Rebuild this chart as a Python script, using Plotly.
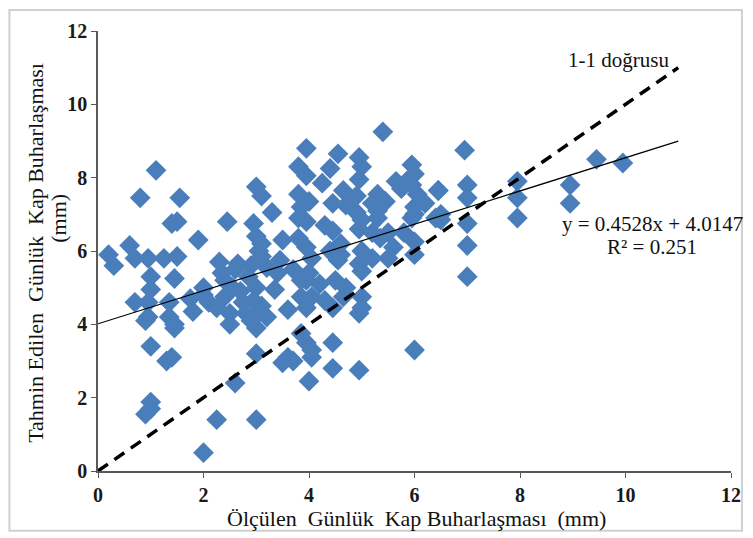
import plotly.graph_objects as go

# Measured (x) and predicted (y) daily pan evaporation values (mm)
measured = [0.2,0.3,0.6,0.7,0.7,0.8,0.95,1.0,1.0,0.95,0.95,0.9,1.0,1.0,1.0,0.9,1.1,1.25,1.5,1.45,1.35,1.35,1.45,1.3,1.4,1.4,1.5,1.55,1.45,1.75,1.8,1.9,2.0,2.0,2.0,2.1,2.25,2.3,2.35,2.4,2.45,2.5,2.5,2.6,2.25,2.65,2.7,2.8,2.85,3.0,2.95,3.0,3.0,3.0,2.95,3.0,3.1,3.0,3.1,3.3,3.5,3.45,3.4,3.35,3.7,3.6,3.85,3.85,3.5,3.6,3.85,3.95,4.05,4.05,3.7,4.0,3.1,3.2,3.1,3.2,2.9,3.05,
            3.8,3.95,3.95,4.55,4.95,5.0,4.4,4.25,4.95,5.95,6.0,5.85,6.45,3.8,4.0,4.65,4.9,5.3,5.45,5.65,5.75,5.95,6.05,6.0,5.95,4.45,4.7,5.2,5.3,3.85,3.8,3.95,4.3,4.45,4.9,5.0,4.95,5.3,6.5,6.5,3.8,3.95,4.05,4.6,4.6,5.2,5.35,5.5,6.0,4.4,4.55,4.0,3.95,4.2,4.5,4.7,4.65,4.95,5.0,4.05,4.3,3.95,5.0,5.0,4.95,4.45,5.4,4.45,4.45,4.95,6.0,5.5,5.6,5.0,5.2,5.8,6.0,6.2,6.4,6.0,
            6.95,7.0,7.0,6.45,6.45,7.0,7.0,7.0,7.95,7.95,7.95,8.95,8.95,9.45,9.95,
            2.55,2.75,2.9,3.0,2.4,2.6]
predicted = [5.9,5.6,6.15,5.8,4.6,7.45,5.8,5.3,4.95,4.6,4.2,4.1,3.4,1.88,1.7,1.55,8.2,5.8,5.85,5.25,4.6,4.2,3.9,3.0,3.1,6.75,6.8,7.45,4.0,4.7,4.35,6.3,5.0,0.5,4.8,4.6,4.45,5.7,5.4,4.75,6.8,4.3,4.0,2.4,1.4,5.65,4.9,4.3,5.3,5.0,4.65,3.9,3.2,1.4,6.75,6.4,6.2,7.75,7.5,7.05,6.3,5.75,5.4,4.95,5.5,4.4,5.2,4.75,2.95,3.1,3.75,3.5,3.3,3.1,3.0,2.45,5.85,5.55,4.5,4.2,5.6,6.0,
             8.3,8.05,8.8,8.65,8.55,8.3,8.25,7.85,7.95,8.35,8.1,7.9,7.65,7.55,7.35,7.65,7.5,7.55,7.35,7.9,7.7,7.8,7.55,7.2,6.9,7.3,7.25,7.3,7.1,7.2,6.9,6.8,6.7,6.55,7.05,6.85,6.6,6.9,7.0,6.85,6.35,6.1,5.8,6.2,5.9,6.5,6.35,6.5,6.25,6.0,5.75,5.4,5.2,5.1,5.2,5.0,4.75,5.65,5.45,4.75,4.65,4.45,4.75,4.45,4.3,4.45,9.25,3.5,2.8,2.75,3.3,5.8,6.1,6.0,5.8,6.5,7.0,7.3,6.9,5.9,
             8.75,7.8,7.45,7.65,6.9,6.75,6.15,5.3,7.9,7.45,6.9,7.8,7.3,8.5,8.4,
             5.0,4.6,4.1,4.3,5.2,5.5]

line_x = [0, 11]
slope = 0.4528
intercept = 4.0147
fit_y = [slope * v + intercept for v in line_x]
one_to_one_y = [0, 11]

x_ticks = [0, 2, 4, 6, 8, 10, 12]
y_ticks = [0, 2, 4, 6, 8, 10, 12]

SERIF = "Liberation Serif"
BLUE = "#4A7EBB"
NB = "\u00a0"

# page layout: the html body adds an 8px offset, so the figure is 745x530
PL, PR, PT, PB = 98, 734, 30, 471   # plot area in page pixels
OFF = 8


def px(xp):
    return (xp - PL) / (PR - PL)


def py(yp):
    return (PB - yp) / (PB - PT)


fig = go.Figure()
fig.add_trace(go.Scatter(
    x=measured, y=predicted, mode="markers",
    marker=dict(symbol="diamond", size=16, color=BLUE, line=dict(width=0)),
    showlegend=False, hoverinfo="x+y"))
fig.add_trace(go.Scatter(
    x=line_x, y=fit_y, mode="lines",
    line=dict(color="black", width=1.2), showlegend=False))
fig.add_trace(go.Scatter(
    x=line_x, y=one_to_one_y, mode="lines",
    line=dict(color="black", width=3.5, dash="12px,8px"), showlegend=False))

axis_common = dict(
    range=[0, 12], showgrid=False, zeroline=False,
    showline=True, linecolor="#595959", linewidth=1.5,
    ticks="outside", ticklen=5, tickcolor="#595959", tickwidth=1.2,
    tickfont=dict(family=SERIF, size=20, color="#1a1a1a"),
)
fig.update_xaxes(tickvals=x_ticks, ticktext=[f"<b>{v}</b>" for v in x_ticks], **axis_common)
fig.update_yaxes(tickvals=y_ticks, ticktext=[f"<b>{v}</b>" for v in y_ticks], **axis_common)

ann_font = dict(family=SERIF, size=21, color="#111111")
fig.add_annotation(x=9.87, y=11.21, xref="x", yref="y", text="1-1 doğrusu",
                   showarrow=False, font=ann_font, xanchor="center", yanchor="middle")
fig.add_annotation(x=10.51, y=6.75, xref="x", yref="y", text="y = 0.4528x + 4.0147",
                   showarrow=False, font=ann_font, xanchor="center", yanchor="middle")
fig.add_annotation(x=10.51, y=6.1, xref="x", yref="y", text="R² = 0.251",
                   showarrow=False, font=ann_font, xanchor="center", yanchor="middle")

title_font = dict(family=SERIF, size=22, color="#111111")
fig.add_annotation(x=px(418), y=py(519), xref="paper", yref="paper",
                   text=f"Ölçülen {NB}Günlük {NB}Kap Buharlaşması {NB}(mm)", showarrow=False,
                   font=title_font, xanchor="center", yanchor="middle")
fig.add_annotation(x=px(35), y=py(252), xref="paper", yref="paper",
                   text=f"Tahmin Edilen {NB}Günlük {NB}Kap Buharlaşması", textangle=-90,
                   showarrow=False, font=title_font, xanchor="center", yanchor="middle")
fig.add_annotation(x=px(58), y=py(218), xref="paper", yref="paper",
                   text="(mm)", textangle=-90,
                   showarrow=False, font=title_font, xanchor="center", yanchor="middle")

fig.add_shape(type="rect", xref="paper", yref="paper",
              x0=px(9), x1=px(745), y0=py(531), y1=py(9),
              line=dict(color="#d0d0d0", width=2), fillcolor="rgba(0,0,0,0)", layer="below")

fig.update_layout(
    width=753 - OFF, height=538 - OFF,
    margin=dict(l=PL - OFF, r=753 - PR, t=PT - OFF, b=538 - PB, pad=0),
    paper_bgcolor="white", plot_bgcolor="white",
    font=dict(family=SERIF),
)

fig.write_html("out.html")
